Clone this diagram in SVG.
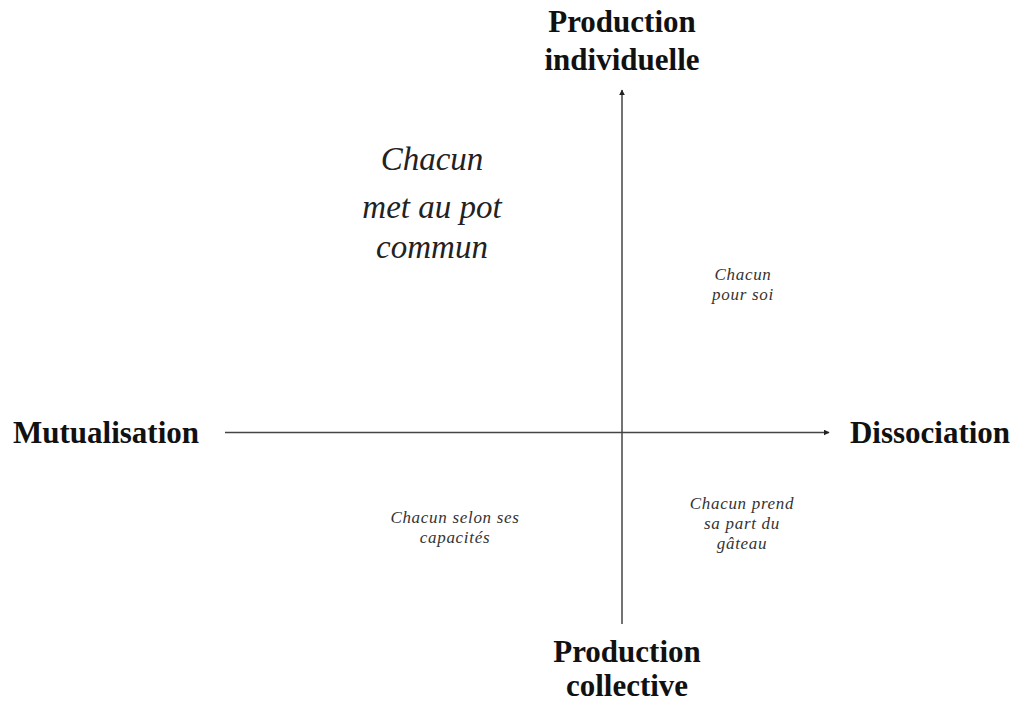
<svg xmlns="http://www.w3.org/2000/svg" width="1015" height="701" viewBox="0 0 1015 701">
<style>
.axis{font-family:"Liberation Serif","Times New Roman",serif;font-weight:bold;font-size:31px;fill:#111;text-anchor:middle}
.big{font-family:"Liberation Serif","Times New Roman",serif;font-style:italic;font-size:33px;fill:#222;text-anchor:middle}
.small{font-family:"Liberation Serif","Times New Roman",serif;font-style:italic;font-size:17px;letter-spacing:0.7px;fill:#333;text-anchor:middle}
.ax{stroke:#444;stroke-width:1.5;fill:none}
</style>
<defs>
<marker id="arr" viewBox="0 0 10 10" refX="9" refY="5" markerWidth="6" markerHeight="6" orient="auto" markerUnits="userSpaceOnUse">
<path d="M0,0 L10,5 L0,10 z" fill="#222"/>
</marker>
</defs>
<rect width="1015" height="701" fill="#fff"/>
<g id="connectors">
<line class="ax" x1="622" y1="624" x2="622" y2="90" marker-end="url(#arr)"/>
<line class="ax" x1="225" y1="432.5" x2="829" y2="432.5" marker-end="url(#arr)"/>
</g>
<g id="top"><text class="axis" x="622" y="32">Production</text><text class="axis" x="622" y="70">individuelle</text></g>
<g id="bottom"><text class="axis" x="627" y="662">Production</text><text class="axis" x="627" y="696">collective</text></g>
<g id="left"><text class="axis" x="106" y="443">Mutualisation</text></g>
<g id="right"><text class="axis" x="930" y="443">Dissociation</text></g>
<g id="q1"><text class="big" x="432" y="170">Chacun</text><text class="big" x="432" y="218">met au pot</text><text class="big" x="432" y="258">commun</text></g>
<g id="q2"><text class="small" x="743" y="280">Chacun</text><text class="small" x="743" y="300">pour soi</text></g>
<g id="q3"><text class="small" x="455" y="523">Chacun selon ses</text><text class="small" x="455" y="543">capacités</text></g>
<g id="q4"><text class="small" x="742" y="509">Chacun prend</text><text class="small" x="742" y="529">sa part du</text><text class="small" x="742" y="549">gâteau</text></g>
</svg>
